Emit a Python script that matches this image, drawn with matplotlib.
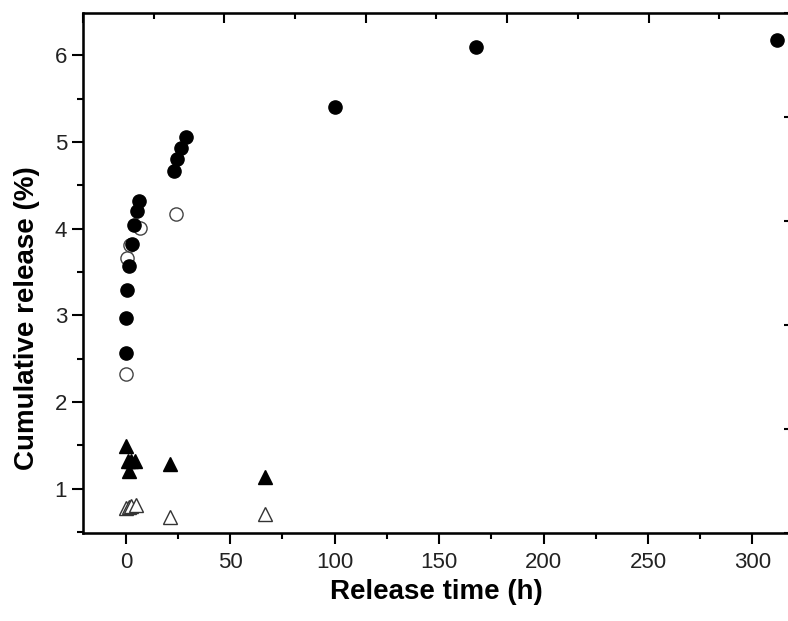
import numpy as np
import matplotlib.pyplot as plt
from matplotlib.ticker import MultipleLocator

plt.rcParams['font.family'] = ['Liberation Sans', 'DejaVu Sans']

# filled circles
t_fc = [0, 0.3, 0.8, 1.6, 2.9, 3.7, 5.4, 6.4, 23.3, 24.7, 26.3, 28.7, 100, 167.5, 312]
r_fc = [2.57, 2.97, 3.29, 3.57, 3.83, 4.04, 4.20, 4.32, 4.67, 4.80, 4.93, 5.06, 5.41, 6.10, 6.18]

# open circles
t_oc = [0, 0.6, 1.9, 6.7, 23.9]
r_oc = [2.32, 3.66, 3.81, 4.01, 4.17]

# filled triangles
t_ft = [0, 1.1, 2.7, 4.3, 1.6, 21, 66.5]
r_ft = [1.49, 1.32, 1.32, 1.32, 1.21, 1.29, 1.14]

# open triangles
t_ot = [0.3, 1.6, 2.7, 5.1, 21, 66.5]
r_ot = [0.78, 0.79, 0.80, 0.81, 0.68, 0.71]

fig = plt.figure(figsize=(7.88, 6.21), dpi=100)
ax = fig.add_axes([83/788, 1 - 533/621, 707/788, 520/621])

ax.plot(t_oc, r_oc, 'o', markersize=9.5, markerfacecolor='white',
        markeredgecolor='#444444', markeredgewidth=1.0, linestyle='none')
ax.plot(t_fc, r_fc, 'o', markersize=9.5, color='black', linestyle='none')
ax.plot(t_ot, r_ot, '^', markersize=10.5, markerfacecolor='white',
        markeredgecolor='#333333', markeredgewidth=1.0, linestyle='none')
ax.plot(t_ft, r_ft, '^', markersize=10.5, color='black', linestyle='none')

ax.set_xlim(-20.5, 318)
ax.set_ylim(0.49, 6.49)

ax.xaxis.set_major_locator(MultipleLocator(50))
ax.xaxis.set_minor_locator(MultipleLocator(25))
ax.yaxis.set_major_locator(MultipleLocator(1))
ax.yaxis.set_minor_locator(MultipleLocator(0.5))
ax.tick_params(which='major', direction='out', length=8, width=1.5,
               labelsize=16, labelcolor='#222222', top=False, right=False)
ax.tick_params(axis='x', which='major', pad=6)
ax.tick_params(which='minor', direction='out', length=4, width=1.5,
               top=False, right=False)

for s in ax.spines.values():
    s.set_linewidth(1.8)

ax.set_xlabel('Release time (h)', fontsize=20, fontweight='bold', labelpad=4)
ax.set_ylabel('Cumulative release (%)', fontsize=20, fontweight='bold')
ax.yaxis.set_label_coords(-0.061, 0.413)

# ticks on the top and right frame
ax_top = ax.twiny()
ax_top.set_xlim(0, 5)
ax_top.xaxis.set_major_locator(MultipleLocator(1))
ax_top.xaxis.set_minor_locator(MultipleLocator(0.5))
ax_top.tick_params(axis='x', which='major', direction='in', length=7, width=1.5, labeltop=False)
ax_top.tick_params(axis='x', which='minor', direction='in', length=4, width=1.5)

ax_right = ax.twinx()
ax_right.set_ylim(0, 5)
ax_right.yaxis.set_major_locator(MultipleLocator(1))
ax_right.tick_params(axis='y', which='major', direction='in', length=4, width=1.5, labelright=False)

fig.savefig('out.png', dpi=100)
